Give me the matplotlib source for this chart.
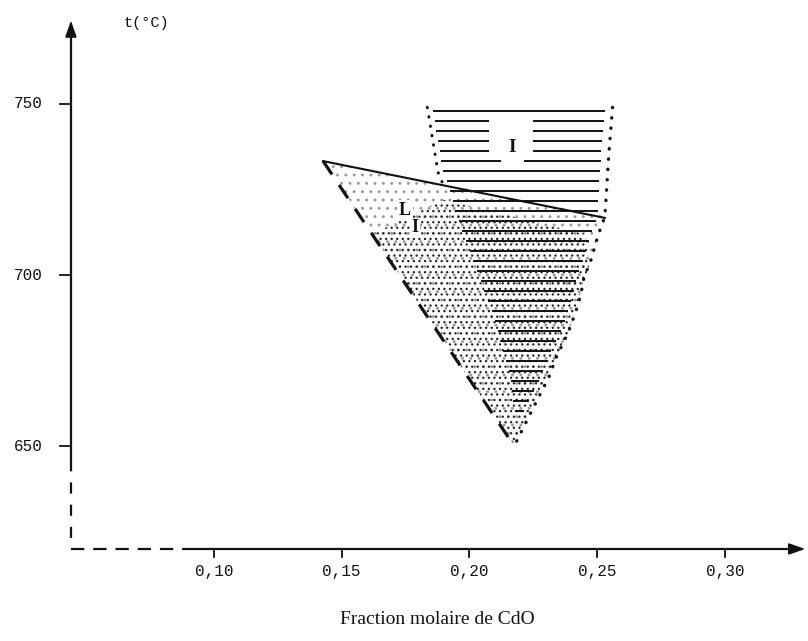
import numpy as np
import matplotlib
matplotlib.use("Agg")
import matplotlib.pyplot as plt
from matplotlib.patches import Polygon

# ---- data (mole fraction of CdO, temperature in °C) ----
x_ticks = [0.10, 0.15, 0.20, 0.25, 0.30]
x_tick_labels = ["0,10", "0,15", "0,20", "0,25", "0,30"]
y_ticks = [650, 700, 750]
y_tick_labels = ["650", "700", "750"]

# liquidus (solid line)
liquidus_x = [0.1427, 0.2530]
liquidus_t = [733.3, 716.7]

# lower limit of the two-phase field L + I (dashed)
solidus_x = [0.1427, 0.2175]
solidus_t = [733.3, 650.0]

# right limit of the I domain (dotted), from top to the tip
right_x = [0.2560, 0.2545, 0.2530, 0.2505, 0.2470, 0.2450, 0.2435,
           0.2415, 0.2385, 0.2340, 0.2310, 0.2255, 0.2175]
right_t = [749.0, 735.0, 717.0, 712.0, 703.0, 700.0, 694.0,
           689.0, 683.0, 676.0, 670.0, 662.0, 650.0]

# left limit of the I domain, from top to the tip
left_x = [0.1835, 0.1877, 0.1900, 0.1950, 0.2070, 0.2140, 0.2175]
left_t = [749.0, 730.0, 726.0, 713.0, 689.0, 670.0, 650.0]

fig = plt.figure(figsize=(8.08, 6.41), dpi=100)
ax = fig.add_axes([0, 0, 1, 1])
ax.set_xlim(0.01624, 0.3325)
ax.set_ylim(593.0, 780.4)
ax.axis("off")

ink = "#111111"
mono = "Liberation Mono"
serif = "Liberation Serif"

# ---- axes drawn by hand ----
x0, t0 = 0.044, 619.9
ax.plot([x0, x0], [645.3, 772.0], color=ink, lw=1.6, solid_capstyle="butt")
ax.plot([x0, x0], [623.0, 645.3], color=ink, lw=1.6, linestyle=(0, (5, 5)))
ax.annotate("", xy=(x0, 775.2), xytext=(x0, 768.0),
            arrowprops=dict(arrowstyle="-|>,head_width=0.35,head_length=1.0",
                            color=ink, lw=1.2))
ax.plot([0.0918, 0.326], [t0, t0], color=ink, lw=1.6, solid_capstyle="butt")
ax.plot([x0, 0.0918], [t0, t0], color=ink, lw=1.6, linestyle=(0, (6, 4)))
ax.annotate("", xy=(0.3325, t0), xytext=(0.324, t0),
            arrowprops=dict(arrowstyle="-|>,head_width=0.35,head_length=1.0",
                            color=ink, lw=1.2))

for xv, lab in zip(x_ticks, x_tick_labels):
    ax.plot([xv, xv], [t0, t0 - 2.4], color=ink, lw=1.3)
    ax.text(xv, 613.3, lab, ha="center", va="center", fontsize=11.5,
            family=mono, color=ink)
for tv, lab in zip(y_ticks, y_tick_labels):
    ax.plot([x0 - 0.0043, x0], [tv, tv], color=ink, lw=1.3)
    ax.text(0.0272, tv, lab, ha="center", va="center", fontsize=11.5,
            family=mono, color=ink)

ax.text(0.0645, 773.7, "t(°C)", ha="left", va="center", fontsize=11,
        family=mono, color=ink)
ax.text(0.1873, 599.3, "Fraction molaire de CdO", ha="center", va="center",
        fontsize=14, family=serif, color=ink)

# ---- two-phase field L + I (stippled) ----
t_cross = 717.2
rt = np.array(right_t)
rx = np.array(right_x)
x_cross = np.interp(-t_cross, -rt, rx)
poly = [(liquidus_x[0], liquidus_t[0]), (x_cross, t_cross)]
mask = rt < t_cross
poly += list(zip(rx[mask], rt[mask]))
poly.append((solidus_x[1], solidus_t[1]))
plt.rcParams["hatch.linewidth"] = 0.9
ax.add_patch(Polygon(poly, closed=True, facecolor="white",
                     edgecolor="#9a9a9a", hatch="..", lw=0, zorder=1))
# heavier stipple in the lower part of the field
lower = [(0.1620, 712.0), (0.1900, 722.0), (0.2450, 712.0), (0.2470, 703.0),
         (0.2385, 683.0), (0.2255, 662.0), (0.2175, 650.0)]
ax.add_patch(Polygon(lower, closed=True, facecolor="none",
                     edgecolor="#262626", hatch="...", lw=0, zorder=1))

# ---- I domain: horizontal hatching ----
rows = np.arange(748.0, 652.0, -2.93)
lt = -np.array(left_t)
for tv in rows:
    xl = np.interp(-tv, lt, left_x) + 0.0020
    xr = np.interp(-tv, -rt, rx) - 0.0030
    if xr - xl < 0.002:
        continue
    if 732.0 < tv < 746.0:
        gl, gr = (0.2075, 0.2250) if tv > 734.5 else (0.2125, 0.2215)
        segs = [(xl, gl), (gr, xr)]
    else:
        segs = [(xl, xr)]
    for a, b in segs:
        ax.plot([a, b], [tv, tv], color=ink, lw=1.4, zorder=3,
                solid_capstyle="butt")

# ---- phase boundaries ----
ax.plot(liquidus_x, liquidus_t, color=ink, lw=1.5, zorder=4)
ax.plot(solidus_x, solidus_t, color=ink, lw=2.3, zorder=4,
        linestyle=(0, (5, 4)))
ax.plot(right_x, right_t, color=ink, lw=2.4, zorder=4,
        linestyle=(0, (0.1, 3.0)), dash_capstyle="round")
top_left = [(xv, tv) for xv, tv in zip(left_x, left_t) if tv >= 726.0]
ax.plot([p[0] for p in top_left], [p[1] for p in top_left], color=ink,
        lw=2.2, zorder=4, linestyle=(0, (0.1, 3.0)), dash_capstyle="round")

# ---- domain labels ----
lbl = dict(ha="center", va="center", family=serif, color=ink,
           fontweight="bold", zorder=5)
ax.text(0.2166, 737.4, "I", fontsize=14, **lbl)
box = dict(boxstyle="square,pad=0.08", facecolor="white", edgecolor="none")
ax.text(0.1748, 719.0, "L", fontsize=13, bbox=box, **lbl)
ax.text(0.1787, 713.8, "I", fontsize=13, bbox=box, **lbl)

fig.savefig("out.png", dpi=100)
